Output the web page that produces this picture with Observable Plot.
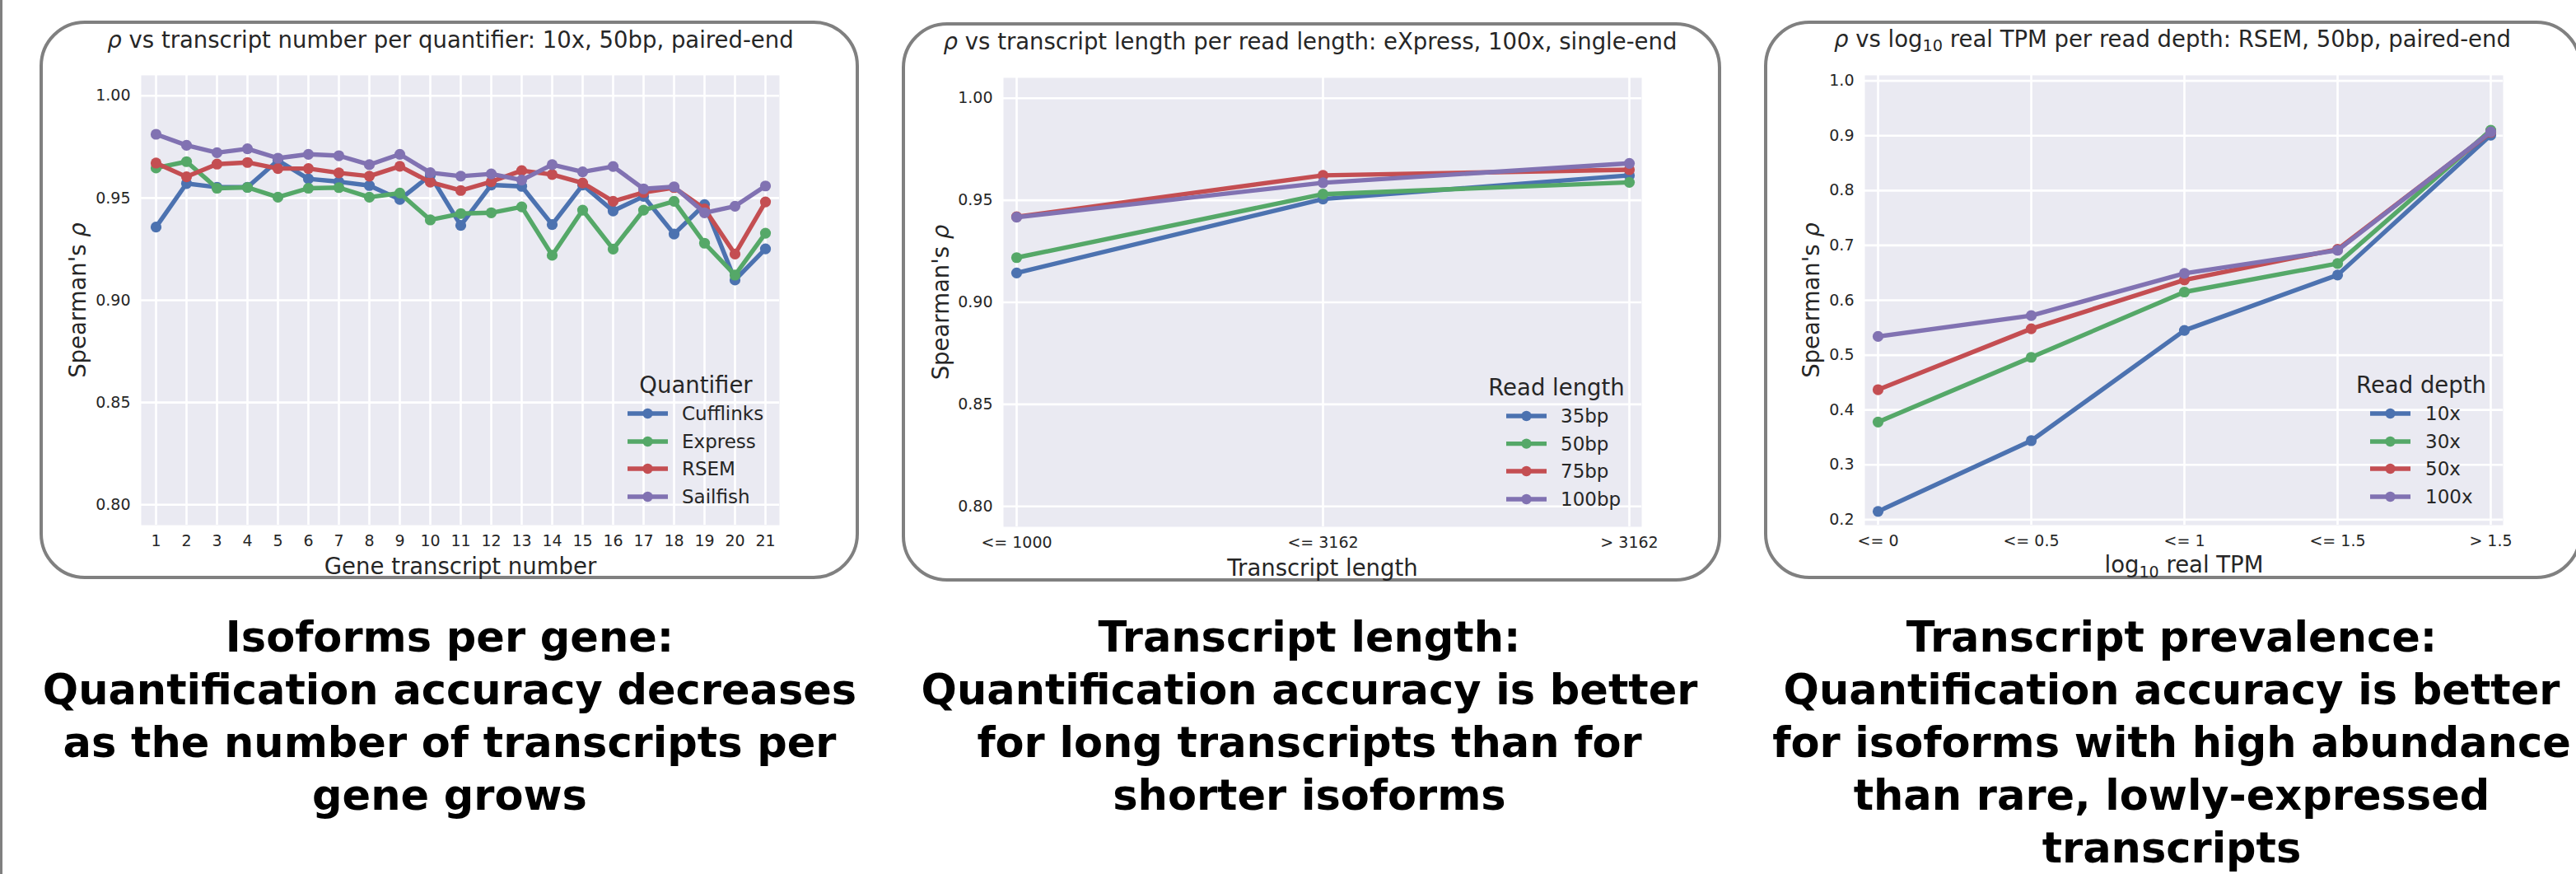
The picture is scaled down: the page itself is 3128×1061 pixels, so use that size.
<!DOCTYPE html>
<html><head><meta charset="utf-8">
<script src="https://cdn.jsdelivr.net/npm/d3@7"></script>
<script src="https://cdn.jsdelivr.net/npm/@observablehq/plot@0.6"></script>
<style>
html,body{margin:0;padding:0;background:#fff;}
#page{position:relative;width:3128px;height:1061px;overflow:hidden;background:#fff;font-family:"DejaVu Sans",sans-serif;}
.edge{position:absolute;left:0;top:0;width:3px;height:1061px;background:#808080;}
.box{position:absolute;box-sizing:border-box;border:4.3px solid #808080;border-radius:55px;}
.svgwrap{position:absolute;top:0;height:720px;}
.svgwrap svg{max-width:none;display:block;}
.title{position:absolute;white-space:nowrap;font-size:27.5px;line-height:27.5px;color:#262626;transform:translateX(-50%);}
.title sub{font-size:0.7em;vertical-align:-0.25em;line-height:0;}
.caption{position:absolute;width:1200px;margin-left:-600px;text-align:center;font-weight:bold;font-size:51px;line-height:64px;color:#000;white-space:nowrap;}
</style></head><body><div id="page"></div>
<script>
// ---------- data ----------
const palette = ["#4C72B0", "#55A868", "#C44E52", "#8172B2"];

// Panel 1: isoforms per gene
const geneTranscriptNumbers = [1,2,3,4,5,6,7,8,9,10,11,12,13,14,15,16,17,18,19,20,21];
const quantifiers = ["Cufflinks", "Express", "RSEM", "Sailfish"];
const cufflinksRho = [0.9358,0.9571,0.9553,0.9553,0.9684,0.9594,0.9580,0.9561,0.9493,0.9611,0.9366,0.9564,0.9557,0.9370,0.9564,0.9437,0.9508,0.9324,0.9468,0.9099,0.9251];
const expressRho   = [0.9647,0.9678,0.9548,0.9552,0.9504,0.9548,0.9551,0.9504,0.9524,0.9393,0.9424,0.9428,0.9457,0.9220,0.9441,0.9250,0.9441,0.9484,0.9279,0.9123,0.9328];
const rsemRho      = [0.9671,0.9604,0.9666,0.9674,0.9644,0.9644,0.9623,0.9607,0.9655,0.9578,0.9537,0.9580,0.9634,0.9615,0.9574,0.9484,0.9527,0.9551,0.9447,0.9226,0.9481];
const sailfishRho  = [0.9812,0.9758,0.9722,0.9741,0.9695,0.9714,0.9707,0.9663,0.9714,0.9624,0.9607,0.9618,0.9588,0.9663,0.9628,0.9654,0.9545,0.9555,0.9428,0.9460,0.9559];

// Panel 2: transcript length
const lengthBins = ["<= 1000", "<= 3162", "> 3162"];
const readLengths = ["35bp", "50bp", "75bp", "100bp"];
const rho35bp  = [0.9144, 0.9506, 0.9622];
const rho50bp  = [0.9219, 0.9530, 0.9588];
const rho75bp  = [0.9419, 0.9622, 0.9650];
const rho100bp = [0.9417, 0.9586, 0.9681];

// Panel 3: transcript prevalence
const tpmBins = ["<= 0", "<= 0.5", "<= 1", "<= 1.5", "> 1.5"];
const readDepths = ["10x", "30x", "50x", "100x"];
const rho10x  = [0.215, 0.344, 0.545, 0.646, 0.901];
const rho30x  = [0.378, 0.496, 0.615, 0.667, 0.910];
const rho50x  = [0.437, 0.548, 0.637, 0.693, 0.906];
const rho100x = [0.534, 0.572, 0.649, 0.691, 0.907];

const rhoTicks1 = [0.80, 0.85, 0.90, 0.95, 1.00];
const rhoTicks3 = [0.2, 0.3, 0.4, 0.5, 0.6, 0.7, 0.8, 0.9, 1.0];

// ---------- layout ----------
const LINE_W = 5.4, DOT_R = 6.6;
const page = document.getElementById("page");
page.insertAdjacentHTML("beforeend", '<div class="edge"></div>');

function addBox(l, t, w, h) {
  const d = document.createElement("div");
  d.className = "box";
  Object.assign(d.style, {left: l + "px", top: t + "px", width: w + "px", height: h + "px"});
  page.appendChild(d);
}
function addTitle(cx, baseline, html) {
  const d = document.createElement("div");
  d.className = "title";
  d.style.left = cx + "px";
  d.style.top = (baseline - 23.3) + "px";
  d.innerHTML = html;
  page.appendChild(d);
}
function addCaption(cx, top, lines) {
  const d = document.createElement("div");
  d.className = "caption";
  d.style.left = cx + "px";
  d.style.top = top + "px";
  d.innerHTML = lines.join("<br>");
  page.appendChild(d);
}

function panel(o) {
  const rows = [];
  o.series.forEach((name, si) => o.values[si].forEach((v, i) => rows.push({series: name, cat: o.categories[i], value: v})));
  const marks = [
    Plot.frame({fill: "#EAEAF2", stroke: null}),
    Plot.gridY(o.yTicks, {stroke: "white", strokeOpacity: 1, strokeWidth: 2.6}),
    Plot.gridX(o.categories, {stroke: "white", strokeOpacity: 1, strokeWidth: 2.6}),
    Plot.axisY(o.yTicks, {tickSize: 0, tickPadding: 13, tickFormat: d3.format(o.yFormat), fontSize: 19, fill: "#262626", label: null}),
    Plot.axisX(o.categories, {tickSize: 0, tickPadding: 12, tickFormat: d => String(d), fontSize: 19, fill: "#262626", label: null})
  ];
  o.series.forEach(name => {
    const d = rows.filter(r => r.series === name);
    marks.push(Plot.line(d, {x: "cat", y: "value", stroke: "series", strokeWidth: LINE_W}));
    marks.push(Plot.dot(d, {x: "cat", y: "value", fill: "series", r: DOT_R}));
  });
  marks.push(Plot.text(["Spearman's ρ"], {frameAnchor: "left", textAnchor: "middle", lineAnchor: "middle", rotate: -90, dx: o.yLabelDx, fontSize: 27.5, fill: "#262626", className: "ylab"}));
  marks.push(Plot.text([o.xLabel], {frameAnchor: "bottom", textAnchor: "middle", lineAnchor: "middle", dy: o.xLabelDy, fontSize: 27.5, fill: "#262626", className: "xlab"}));

  const svg = Plot.plot({
    width: o.width, height: 720,
    marginLeft: o.mL, marginRight: o.mR, marginTop: o.mT, marginBottom: o.mB,
    style: {fontFamily: "DejaVu Sans", background: "transparent", overflow: "visible"},
    x: {type: "point", domain: o.categories, padding: o.xPad},
    y: {domain: o.yDomain},
    color: {domain: o.series, range: palette},
    marks
  });
  // italic rho in y label
  svg.querySelectorAll("g.ylab text").forEach(t => { t.innerHTML = "Spearman's <tspan font-style=\"italic\">ρ</tspan>"; });
  if (o.xLabelHtml) svg.querySelectorAll("g.xlab text").forEach(t => { t.innerHTML = o.xLabelHtml; });

  // legend (lower right, inside the axes)
  const color = svg.scale("color");
  const right = o.width - o.mR, bottom = 720 - o.mB, L = o.legend;
  const g = d3.select(svg).append("g").attr("font-family", "DejaVu Sans");
  g.append("text").attr("x", right + L.titleDx).attr("y", bottom + L.titleDy).attr("dy", "0.35em")
    .attr("text-anchor", "middle").attr("font-size", 27.5).attr("fill", "#262626").text(o.legendTitle);
  o.series.forEach((name, i) => {
    const y = bottom + L.rowDy[i], c = color.apply(name);
    g.append("line").attr("x1", right + L.lineDx).attr("x2", right + L.lineDx + 49)
      .attr("y1", y).attr("y2", y).attr("stroke", c).attr("stroke-width", LINE_W);
    g.append("circle").attr("cx", right + L.lineDx + 24.5).attr("cy", y).attr("r", DOT_R - 0.4).attr("fill", c);
    g.append("text").attr("x", right + L.labelDx).attr("y", y).attr("dy", "0.35em")
      .attr("text-anchor", "start").attr("font-size", 23).attr("fill", "#262626").text(name);
  });

  const wrap = document.createElement("div");
  wrap.className = "svgwrap";
  wrap.style.left = o.left + "px";
  wrap.style.top = o.top + "px";
  wrap.style.width = o.width + "px";
  wrap.appendChild(svg);
  page.appendChild(wrap);
}

// Boxes
addBox(48, 25, 995, 678);
addBox(1095, 27, 995, 679);
addBox(2142, 25, 993, 678);

// Panel 1
panel({
  left: 48, top: 0, width: 995, mL: 123, mR: 97, mT: 91, mB: 83,
  categories: geneTranscriptNumbers, series: quantifiers,
  values: [cufflinksRho, expressRho, rsemRho, sailfishRho],
  yDomain: [0.79, 1.01], yTicks: rhoTicks1, yFormat: ".2f", xPad: 0.403,
  xLabel: "Gene transcript number", xLabelDy: 51, yLabelDx: -76,
  legendTitle: "Quantifier",
  legend: {titleDx: -101, titleDy: -170, lineDx: -184, labelDx: -118, rowDy: [-135, -101, -68, -34]}
});
// Panel 2
panel({
  left: 1095, top: 0, width: 995, mL: 123, mR: 97, mT: 94, mB: 81,
  categories: lengthBins, series: readLengths,
  values: [rho35bp, rho50bp, rho75bp, rho100bp],
  yDomain: [0.79, 1.01], yTicks: rhoTicks1, yFormat: ".2f", xPad: 0.04,
  xLabel: "Transcript length", xLabelDy: 51, yLabelDx: -75,
  legendTitle: "Read length",
  legend: {titleDx: -103, titleDy: -169, lineDx: -164, labelDx: -98, rowDy: [-134, -100.4, -67, -33]}
});
// Panel 3
panel({
  left: 2142, top: 0, width: 993, mL: 122, mR: 96, mT: 91, mB: 83,
  categories: tpmBins, series: readDepths,
  values: [rho10x, rho30x, rho50x, rho100x],
  yDomain: [0.19, 1.01], yTicks: rhoTicks3, yFormat: ".1f", xPad: 0.0805,
  xLabel: "log10 real TPM", xLabelHtml: "log<tspan dy=\"6\" font-size=\"19\">10</tspan><tspan dy=\"-6\"> real TPM</tspan>",
  xLabelDy: 49, yLabelDx: -64,
  legendTitle: "Read depth",
  legend: {titleDx: -99, titleDy: -170, lineDx: -161, labelDx: -94, rowDy: [-135, -101, -68, -34]}
});

// Titles
addTitle(547, 58, "<i>ρ</i> vs transcript number per quantifier: 10x, 50bp, paired-end");
addTitle(1591, 60, "<i>ρ</i> vs transcript length per read length: eXpress, 100x, single-end");
addTitle(2638, 57, "<i>ρ</i> vs log<sub>10</sub> real TPM per read depth: RSEM, 50bp, paired-end");

// Captions
addCaption(546, 742, ["Isoforms per gene:", "Quantification accuracy decreases", "as the number of transcripts per", "gene grows"]);
addCaption(1590, 742, ["Transcript length:", "Quantification accuracy is better", "for long transcripts than for", "shorter isoforms"]);
addCaption(2637, 742, ["Transcript prevalence:", "Quantification accuracy is better", "for isoforms with high abundance", "than rare, lowly-expressed", "transcripts"]);
</script>
</body></html>
